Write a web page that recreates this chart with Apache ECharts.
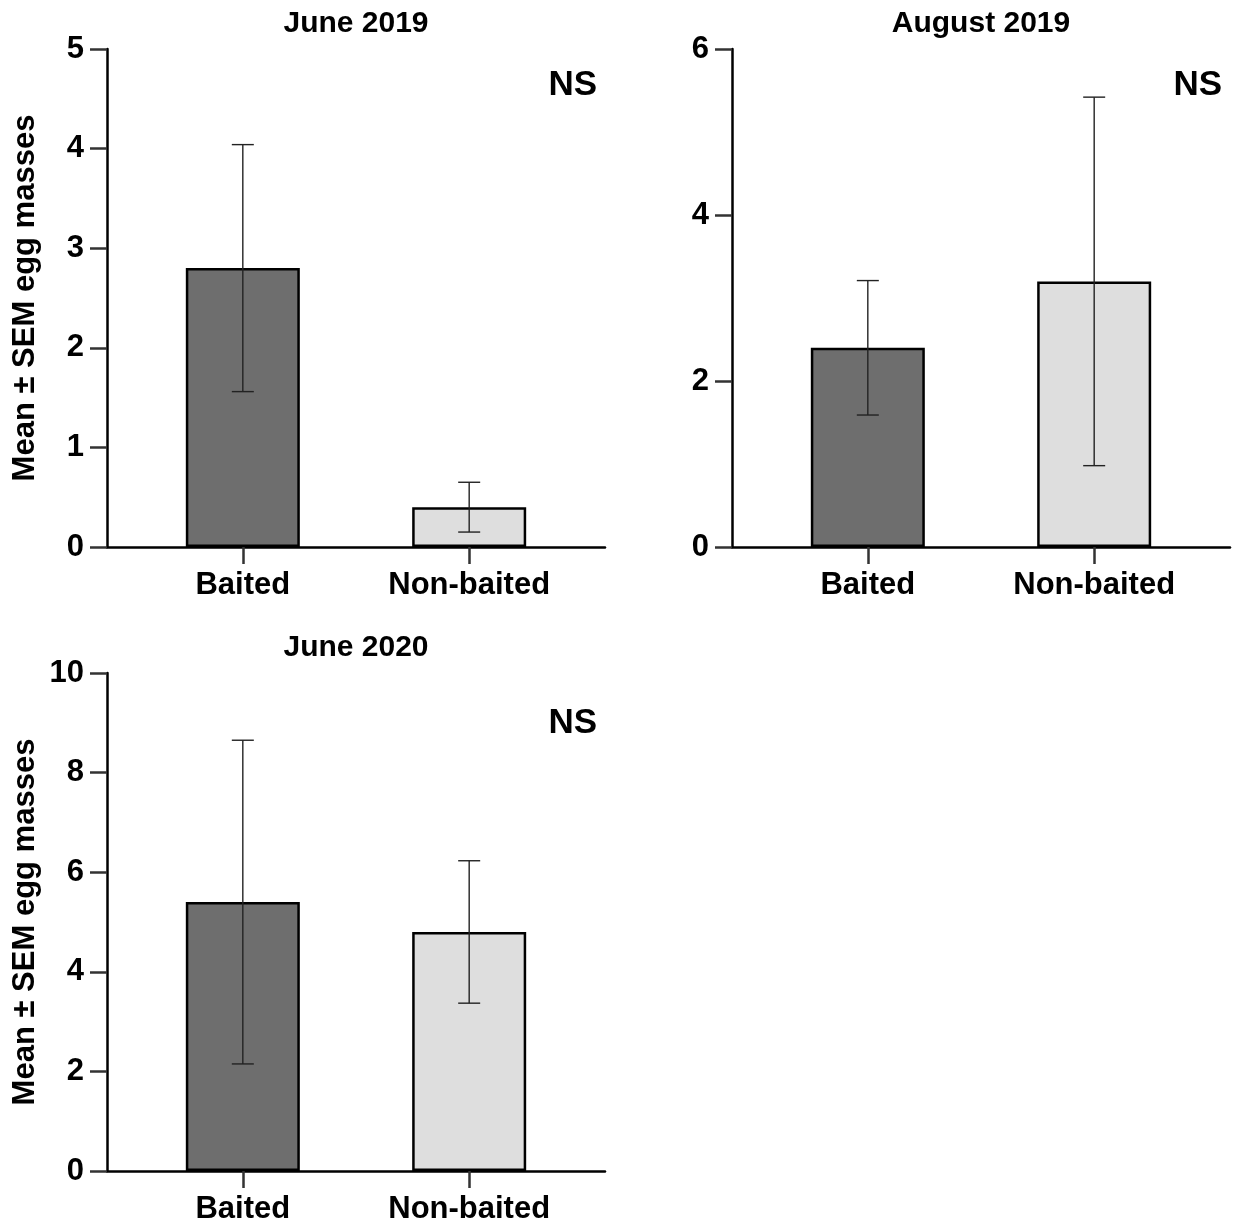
<!DOCTYPE html>
<html>
<head>
<meta charset="utf-8">
<title>Egg masses: baited vs non-baited</title>
<script src="https://cdn.jsdelivr.net/npm/echarts@6/dist/echarts.min.js"></script>
<style>
  html, body { margin: 0; padding: 0; background: #fff; }
  #chart { width: 1235px; height: 1226px; }
</style>
</head>
<body>
<div id="chart"></div>
<script>
// Treatment groups shown on every panel
const groups = ['Baited', 'Non-baited'];
const panelTitles = ['June 2019', 'August 2019', 'June 2020'];
const significance = ['NS', 'NS', 'NS'];

// Mean egg masses per group
const meansJun2019 = [2.8, 0.4];
const meansAug2019 = [2.4, 3.2];
const meansJun2020 = [5.4, 4.8];

// Standard error of the mean per group
const semJun2019 = [1.24, 0.25];
const semAug2019 = [0.81, 2.22];
const semJun2020 = [3.25, 1.43];

// Y-axis ranges and tick spacing per panel
const yMax = [5, 6, 10];
const yStep = [1, 2, 2];

const yTitle = 'Mean \u00b1 SEM egg masses';
const FONT = '"Liberation Sans", Arial, Helvetica, sans-serif';
const barColors = ['#6e6e6e', '#dedede'];

const panels = [
  { means: meansJun2019, sem: semJun2019, left: 107, top: 49, showYName: true },
  { means: meansAug2019, sem: semAug2019, left: 732, top: 49, showYName: false },
  { means: meansJun2020, sem: semJun2020, left: 107, top: 673, showYName: true }
];
const W = 498, H = 498;

const grid = [], xAxis = [], yAxis = [], series = [], graphic = [];

panels.forEach((p, i) => {
  grid.push({ left: p.left, top: p.top, width: W, height: H, containLabel: false });

  xAxis.push({
    gridIndex: i,
    type: 'value',
    min: -0.6,
    max: 1.6,
    splitLine: { show: false },
    axisLine: { show: true, onZero: false, lineStyle: { color: '#000', width: 2.5 } },
    axisTick: { show: true, customValues: [0, 1], length: 17, lineStyle: { color: '#333', width: 2.5 } },
    axisLabel: {
      show: true,
      customValues: [0, 1],
      margin: 23,
      formatter: v => groups[Math.round(v)] || '',
      color: '#000',
      fontSize: 31,
      fontWeight: 'bold',
      fontFamily: FONT
    }
  });

  yAxis.push({
    gridIndex: i,
    type: 'value',
    min: 0,
    max: yMax[i],
    interval: yStep[i],
    splitLine: { show: false },
    axisLine: { show: true, onZero: false, lineStyle: { color: '#000', width: 2.5 } },
    axisTick: { show: true, length: 17, lineStyle: { color: '#333', width: 2.5 } },
    axisLabel: {
      margin: 23,
      color: '#000',
      fontSize: 31,
      fontWeight: 'bold',
      fontFamily: FONT
    },
    name: p.showYName ? yTitle : '',
    nameLocation: 'middle',
    nameGap: 66,
    nameRotate: 90,
    nameTextStyle: { color: '#000', fontSize: 31, fontWeight: 'bold', fontFamily: FONT }
  });

  // Bars: one per group, coloured by group
  series.push({
    type: 'bar',
    xAxisIndex: i,
    yAxisIndex: i,
    barWidth: 114,
    z: 2,
    data: p.means.map((m, k) => ({
      value: [k, m],
      itemStyle: { color: barColors[k], borderColor: '#000', borderWidth: 2.5 }
    }))
  });

  // Error bars: mean +/- SEM with short caps
  series.push({
    type: 'custom',
    xAxisIndex: i,
    yAxisIndex: i,
    z: 5,
    encode: { x: 0, y: [1, 2] },
    data: p.means.map((m, k) => [k, m - p.sem[k], m + p.sem[k]]),
    renderItem: (params, api) => {
      const x = api.value(0);
      const lo = api.coord([x, api.value(1)]);
      const hi = api.coord([x, api.value(2)]);
      const cap = 11;
      const style = { stroke: '#222', lineWidth: 1.4 };
      return {
        type: 'group',
        children: [
          { type: 'line', shape: { x1: hi[0], y1: hi[1], x2: lo[0], y2: lo[1] }, style },
          { type: 'line', shape: { x1: hi[0] - cap, y1: hi[1], x2: hi[0] + cap, y2: hi[1] }, style },
          { type: 'line', shape: { x1: lo[0] - cap, y1: lo[1], x2: lo[0] + cap, y2: lo[1] }, style }
        ]
      };
    }
  });

  // Panel heading, centred over the plot
  graphic.push({
    type: 'text',
    x: p.left + W / 2,
    y: p.top - 25,
    style: {
      text: panelTitles[i],
      fill: '#000',
      font: 'bold 30px ' + FONT,
      align: 'center',
      verticalAlign: 'middle'
    }
  });

  // Significance note in the top-right corner
  graphic.push({
    type: 'text',
    x: p.left + W - 8,
    y: p.top + (i === 2 ? 50 : 36),
    style: {
      text: significance[i],
      fill: '#000',
      font: 'bold 35px ' + FONT,
      align: 'right',
      verticalAlign: 'middle'
    }
  });
});

const chart = echarts.init(document.getElementById('chart'), null, { renderer: 'canvas' });
chart.setOption({
  backgroundColor: '#fff',
  animation: false,
  grid, xAxis, yAxis, series, graphic
});
</script>
</body>
</html>
